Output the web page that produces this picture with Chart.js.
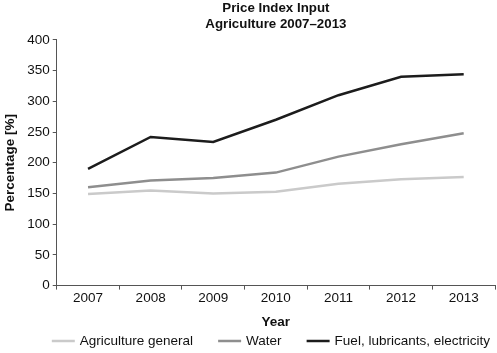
<!DOCTYPE html>
<html>
<head>
<meta charset="utf-8">
<script src="https://cdn.jsdelivr.net/npm/chart.js@4"></script>
<style>
  html, body { margin: 0; padding: 0; background: #fff; }
</style>
</head>
<body>
<canvas id="grafico" width="497" height="353"></canvas>
<script>
// datos
const years = ['2007', '2008', '2009', '2010', '2011', '2012', '2013'];
const agricultureGeneral = [149, 155, 150, 153, 166, 173, 177];
const water = [160, 171, 175, 184, 210, 230, 248];
const fuelLubricants = [190, 242, 234, 270, 310, 340, 344];
const yTicks = [0, 50, 100, 150, 200, 250, 300, 350, 400];

const fuente = '"Liberation Sans", Arial, sans-serif';
Chart.defaults.font.family = fuente;
Chart.defaults.color = '#111';

function serie(label, data, color) {
  return {
    label: label,
    data: data,
    borderColor: color,
    backgroundColor: color,
    borderWidth: 2.5,
    pointRadius: 0,
    fill: false,
    tension: 0
  };
}

// leyenda propia abajo: linea corta + texto, separados como en el original
const leyendaAbajo = {
  id: 'leyendaAbajo',
  afterDraw(chart) {
    const ctx = chart.ctx;
    const sets = chart.data.datasets;
    const largo = 23, hueco = 5, separacion = 25;
    ctx.save();
    ctx.font = '13.5px ' + fuente;
    const anchos = sets.map(d => ctx.measureText(d.label).width);
    const total = anchos.reduce((a, w) => a + largo + hueco + w, 0) + separacion * (sets.length - 1);
    const centro = (chart.chartArea.left + chart.chartArea.right) / 2 - 5;
    let x = centro - total / 2;
    const y = chart.height - 12;
    sets.forEach((d, i) => {
      ctx.strokeStyle = d.borderColor;
      ctx.lineWidth = 2.5;
      ctx.beginPath();
      ctx.moveTo(x, y);
      ctx.lineTo(x + largo, y);
      ctx.stroke();
      ctx.fillStyle = '#111';
      ctx.textBaseline = 'middle';
      ctx.textAlign = 'left';
      ctx.fillText(d.label, x + largo + hueco, y);
      x += largo + hueco + anchos[i] + separacion;
    });
    ctx.restore();
  }
};

new Chart(document.getElementById('grafico'), {
  type: 'line',
  data: {
    labels: years,
    datasets: [
      serie('Agriculture general', agricultureGeneral, '#cacaca'),
      serie('Water', water, '#8e8e8e'),
      serie('Fuel, lubricants, electricity', fuelLubricants, '#1c1c1c')
    ]
  },
  plugins: [leyendaAbajo],
  options: {
    responsive: false,
    animation: false,
    layout: { padding: { left: 2, right: 2, top: 0, bottom: 23 } },
    plugins: {
      title: {
        display: true,
        text: ['Price Index Input', 'Agriculture 2007\u20132013'],
        font: { size: 13.3, weight: 'bold' },
        lineHeight: 1.2,
        fullSize: false,
        padding: { top: 0, bottom: 8 }
      },
      legend: { display: false },
      tooltip: { enabled: false }
    },
    scales: {
      x: {
        offset: true,
        title: { display: true, text: 'Year', font: { size: 13.5, weight: 'bold' }, padding: { top: 6, bottom: 0 } },
        grid: { offset: true, drawOnChartArea: false, drawTicks: true, tickLength: 4, color: '#555' },
        border: { color: '#555' },
        ticks: { font: { size: 13.5 }, maxRotation: 0, padding: 1 }
      },
      y: {
        min: 0,
        max: 400,
        afterBuildTicks: (axis) => { axis.ticks = yTicks.map(v => ({ value: v })); },
        title: { display: true, text: 'Percentage [%]', font: { size: 13.5, weight: 'bold' }, padding: { top: 0, bottom: 6 } },
        grid: { drawOnChartArea: false, drawTicks: true, tickLength: 4, color: '#555' },
        border: { color: '#555' },
        ticks: { font: { size: 13.5 }, padding: 3 }
      }
    }
  }
});
</script>
</body>
</html>
